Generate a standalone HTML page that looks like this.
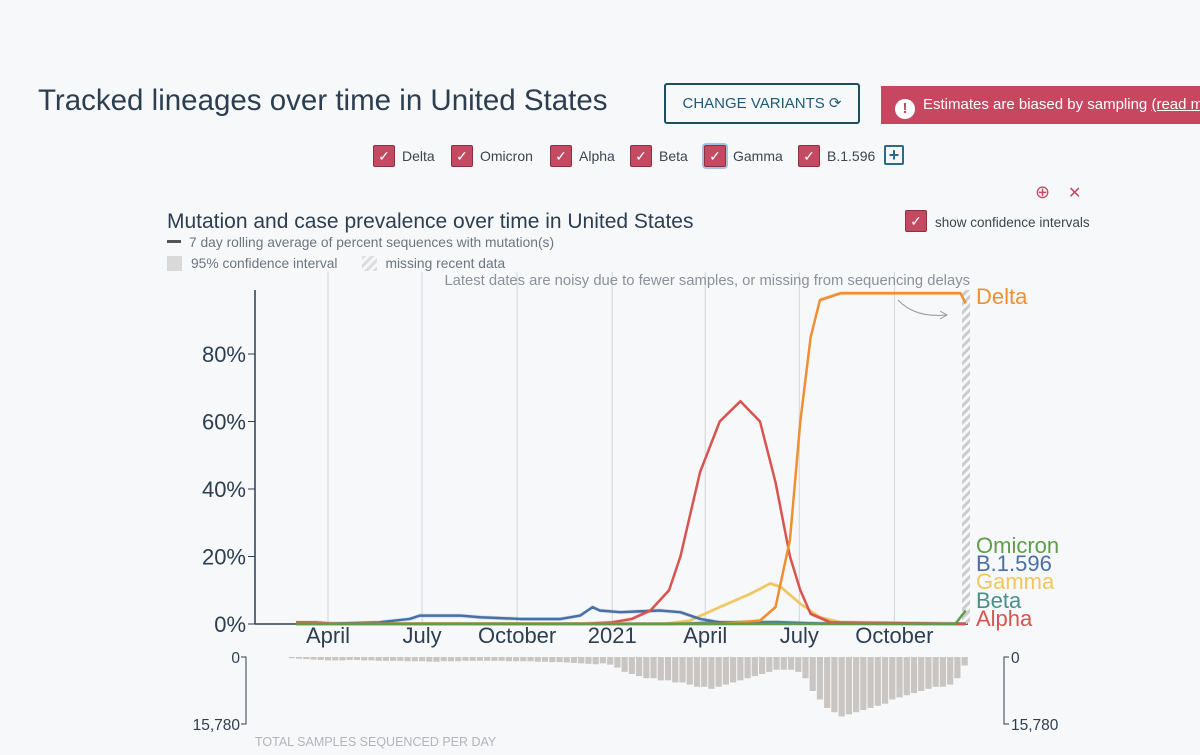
<!DOCTYPE html>
<html><head><meta charset="utf-8"><style>
body{margin:0;width:1200px;height:755px;background:#f7f8fa;font-family:"Liberation Sans",sans-serif;overflow:hidden;position:relative;color:#2c3e50}
.abs{position:absolute}
.cb{position:absolute;top:145px;width:20px;height:20px;background:#c44a61;border:1px solid #8e2f43;border-radius:2px;color:#fff;font-size:14px;text-align:center;line-height:20px}
.lbl{position:absolute;top:148px;font-size:14px;color:#3a4550}
</style></head><body>
<div class="abs" style="left:38px;top:84px;font-size:29.5px;color:#2c3e50">Tracked lineages over time in United States</div>
<div class="abs" style="left:664px;top:83px;width:192px;height:37px;border:2px solid #1f4e5f;border-radius:3px;color:#1f5a78;font-size:15px;line-height:37px;text-align:center">CHANGE VARIANTS ⟳</div>
<div class="abs" style="left:881px;top:86px;width:330px;height:38px;background:#c6475f;color:#fff;font-size:15px;line-height:38px;white-space:nowrap"><span style="display:inline-block;width:20px;height:20px;border-radius:10px;background:#fff;color:#c6475f;text-align:center;line-height:20px;font-weight:bold;margin:0 8px 0 14px;vertical-align:-4px">!</span>Estimates are biased by sampling <u>(read more</u></div>
<div class="cb" style="left:373px">✓</div><div class="lbl" style="left:402px">Delta</div>
<div class="cb" style="left:451px">✓</div><div class="lbl" style="left:480px">Omicron</div>
<div class="cb" style="left:550px">✓</div><div class="lbl" style="left:579px">Alpha</div>
<div class="cb" style="left:630px">✓</div><div class="lbl" style="left:659px">Beta</div>
<div class="cb" style="left:704px;box-shadow:0 0 0 2px #a9bfe0">✓</div><div class="lbl" style="left:733px">Gamma</div>
<div class="cb" style="left:798px">✓</div><div class="lbl" style="left:827px">B.1.596</div>
<div class="abs" style="left:884px;top:145px;width:16px;height:16px;border:2px solid #2a6a8a;border-radius:2px;color:#2a6a8a;font-size:18px;line-height:16px;text-align:center;font-weight:bold">+</div>
<div class="abs" style="left:1035px;top:182px;color:#c6475f;font-size:18px">⊕</div>
<div class="abs" style="left:1068px;top:183px;color:#c6475f;font-size:16px">✕</div>
<div class="cb" style="left:905px;top:210px">✓</div>
<div class="abs" style="left:935px;top:215px;font-size:13.5px;color:#3a4550">show confidence intervals</div>
<div class="abs" style="left:167px;top:210px;font-size:21px;color:#2c3e50">Mutation and case prevalence over time in United States</div>
<div class="abs" style="left:167px;top:235px;font-size:13.8px;color:#6b7580"><span style="display:inline-block;width:14px;height:3px;background:#555;vertical-align:4px;margin-right:8px"></span>7 day rolling average of percent sequences with mutation(s)</div>
<div class="abs" style="left:167px;top:256px;font-size:13.8px;color:#6b7580"><span style="display:inline-block;width:15px;height:15px;background:#d9d9d9;vertical-align:-3px;margin-right:9px"></span>95% confidence interval<span style="display:inline-block;width:15px;height:15px;background:repeating-linear-gradient(135deg,#ddd 0 3px,#f7f8fa 3px 6px);vertical-align:-3px;margin:0 9px 0 24px"></span>missing recent data</div>
<svg class="abs" style="left:0;top:0" width="1200" height="755" id="chart">
<defs><pattern id="hatch" width="6" height="6" patternUnits="userSpaceOnUse" patternTransform="rotate(45)"><rect width="3" height="6" fill="#ccc"/></pattern></defs>
</svg>
<div class="abs" style="left:255px;top:735px;font-size:12.5px;color:#b0b5ba">TOTAL SAMPLES SEQUENCED PER DAY</div>
<script>
const monthTicks=["2020-04-01","2020-07-01","2020-10-01","2021-01-01","2021-04-01","2021-07-01","2021-10-01"];
const monthLabels=["April","July","October","2021","April","July","October"];
const yTicks=[0,20,40,60,80];
const alphaDates=["2020-03-01","2020-03-20","2020-04-10","2020-12-01","2021-01-01","2021-01-20","2021-02-07","2021-02-25","2021-03-08","2021-03-27","2021-04-15","2021-05-05","2021-05-24","2021-06-08","2021-06-22","2021-07-02","2021-07-12","2021-07-31","2021-12-09"];
const alphaVals=[0.5,0.5,0,0,0.5,1.5,4,10,20,45,60,66,60,42,20,10,3,0.5,0];
const deltaDates=["2020-03-01","2021-04-15","2021-05-24","2021-06-08","2021-06-22","2021-07-02","2021-07-12","2021-07-21","2021-08-10","2021-09-10","2021-10-10","2021-11-10","2021-12-04","2021-12-09"];
const deltaVals=[0,0,1,5,25,60,85,96,98,98,98,98,98,95];
const gammaDates=["2020-03-01","2021-02-20","2021-03-17","2021-04-15","2021-05-15","2021-06-03","2021-06-13","2021-07-02","2021-07-21","2021-08-10","2021-12-09"];
const gammaVals=[0,0,1,5,9,12,11,6,2,0.5,0];
const blueDates=["2020-03-20","2020-05-21","2020-06-19","2020-06-29","2020-07-18","2020-08-07","2020-08-26","2020-10-04","2020-11-12","2020-12-01","2020-12-13","2020-12-20","2021-01-09","2021-02-16","2021-03-08","2021-03-27","2021-04-15","2021-05-05","2021-12-09"];
const blueVals=[0,0.5,1.5,2.5,2.5,2.5,2,1.5,1.5,2.5,5,4,3.5,4,3.5,1.5,0.5,0.2,0];
const betaDates=["2020-03-01","2021-03-01","2021-04-15","2021-06-10","2021-07-20","2021-12-09"];
const betaVals=[0,0,0.5,0.6,0.1,0];
const omicronDates=["2020-03-01","2021-11-29","2021-12-09"];
const omicronVals=[0,0,4];
const sampleStart="2020-02-23";
const sampleVals=[300,400,500,600,700,800,800,800,700,700,800,800,900,900,900,900,1000,1000,1000,1100,1100,1000,1000,1000,900,900,900,900,900,900,1000,1000,1000,1000,1100,1100,1200,1200,1300,1400,1500,1600,1700,1500,1800,2500,3500,4000,4500,5000,5000,5500,5500,6000,6000,6500,7000,7000,7500,7000,6500,6000,5500,5000,4500,4000,3500,3000,3000,3000,3500,5000,8000,10000,12000,13000,14000,13500,13000,12500,12000,11500,11000,10000,9500,9000,8500,8000,7500,7000,7000,6500,5000,2000];
const sampleMax=15780;

const svg=document.getElementById('chart');
const NS='http://www.w3.org/2000/svg';
const d0=Date.UTC(2020,3,1);
function day(s){const p=s.split('-');return (Date.UTC(+p[0],+p[1]-1,+p[2])-d0)/864e5;}
function X(s){return 328+day(s)*1.0335;}
function xd(n){return 328+n*1.0335;}
function Y(v){return 624-v*3.375;}
function mk(tag,attrs){const e=document.createElementNS(NS,tag);for(const k in attrs)e.setAttribute(k,attrs[k]);svg.appendChild(e);return e;}
monthTicks.forEach((m,i)=>{
 const g=mk('line',{x1:X(m),x2:X(m),y1:272,y2:624,stroke:'#cfd4da','stroke-width':1});
 
 
 const t=mk('text',{x:X(m),y:643,'font-size':22,fill:'#2c3e50','text-anchor':'middle','font-family':'Liberation Sans'});
 t.textContent=monthLabels[i];
 
 
});
yTicks.forEach(v=>{
 const t=mk('text',{x:246,y:Y(v)+8,'font-size':22,fill:'#2c3e50','text-anchor':'end','font-family':'Liberation Sans'});
 t.textContent=v+'%';
 
 
 mk('line',{x1:248,x2:255,y1:Y(v),y2:Y(v),stroke:'#2c3e50'});
});
const ya=mk('line',{x1:255,x2:255,y1:290,y2:624,stroke:'#2c3e50','stroke-width':1.5});


const xa=mk('line',{x1:255,x2:968,y1:624,y2:624,stroke:'#2c3e50','stroke-width':1.5});


const hatch=mk('rect',{x:962,y:290,width:8,height:334,fill:'url(#hatch)'});


const note=mk('text',{x:970,y:285,'font-size':14.8,fill:'#8a9199','text-anchor':'end','font-family':'Liberation Sans'});
note.textContent='Latest dates are noisy due to fewer samples, or missing from sequencing delays';


mk('path',{d:'M898 300 Q915 318 946 315 M940 311 L947 315 L940 319',fill:'none',stroke:'#999','stroke-width':1});
function series(name,dates,vals,color){
 const pts=dates.map((d,i)=>[X(d),Y(vals[i])]);
 const up=pts.map(p=>p[0]+','+(p[1]-2)).join(' ');
 const dn=pts.slice().reverse().map(p=>p[0]+','+Math.min(624,p[1]+2)).join(' ');
 const ci=mk('polygon',{points:up+' '+dn,fill:color,opacity:0.2});
 
 
 const l=mk('polyline',{points:pts.map(p=>p.join(',')).join(' '),fill:'none',stroke:color,'stroke-width':2.5,'stroke-linejoin':'round'});
 
 
}
series('gamma',gammaDates,gammaVals,'#f0c75e');
series('beta',betaDates,betaVals,'#4a8f8a');
series('b1596',blueDates,blueVals,'#4a6fa5');
series('alpha',alphaDates,alphaVals,'#d9534f');
series('delta',deltaDates,deltaVals,'#ee8f33');
series('omicron',omicronDates,omicronVals,'#5e9e4a');
const labs=[['Delta','#ee8f33',303],['Omicron','#5e9e4a',552],['B.1.596','#4a6fa5',570],['Gamma','#f0c75e',588],['Beta','#4a8f8a',607],['Alpha','#d9534f',625]];
labs.forEach(a=>{const t=mk('text',{x:976,y:a[2]+1,'font-size':22,fill:a[1],'font-family':'Liberation Sans'});t.textContent=a[0];
 
 });
const s0=day(sampleStart);
sampleVals.forEach((v,i)=>{
 const b=mk('rect',{x:xd(s0+i*7),y:657,width:6.2,height:v/sampleMax*67,fill:'#c9c5c2'});
 
 
});
[[246,'end'],[1003,'start']].forEach(([x,a])=>{
 const t1=mk('text',{x:a==='end'?240:x+8,y:663,'font-size':15.5,fill:'#2c3e50','text-anchor':a,'font-family':'Liberation Sans'});t1.textContent='0';
 
 
 const t2=mk('text',{x:a==='end'?240:x+8,y:730,'font-size':15.5,fill:'#2c3e50','text-anchor':a,'font-family':'Liberation Sans'});t2.textContent='15,780';
 
 
 const lx=a==='end'?246:1004;const tk=a==='end'?-5:5;
 mk('path',{d:`M${lx+tk} 657 L${lx} 657 L${lx} 724 L${lx+tk} 724`,fill:'none',stroke:'#2c3e50'});
});
</script>
</body></html>
